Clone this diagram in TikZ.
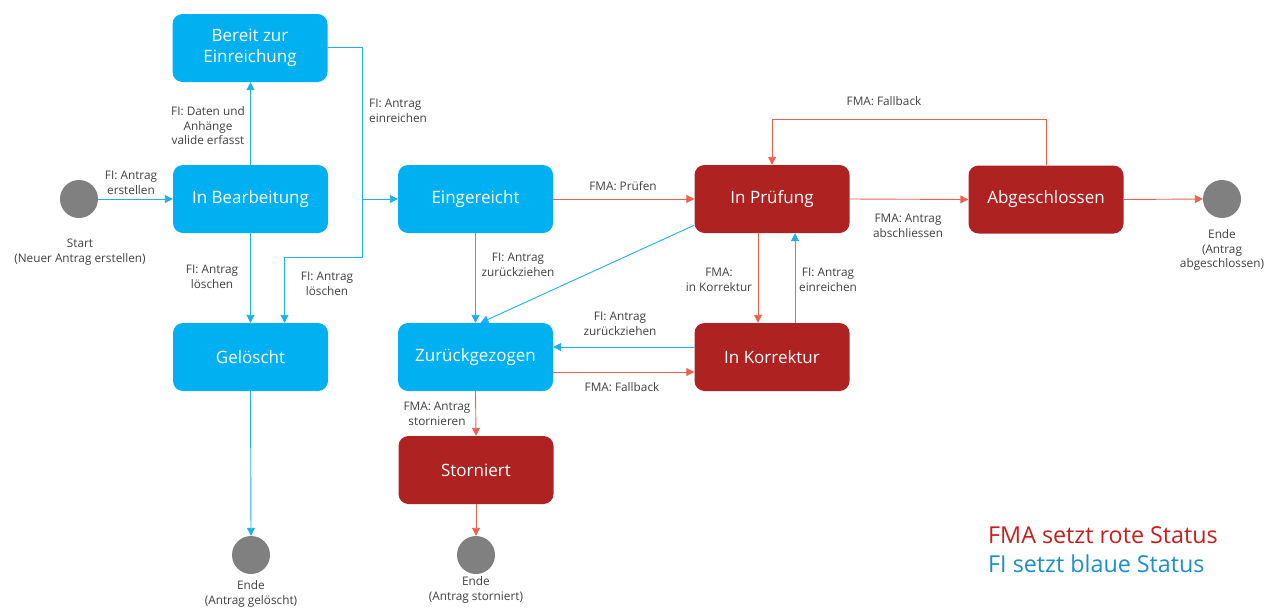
\documentclass[tikz,border=0pt]{standalone}
\usepackage{fontspec}
\setmainfont{Open Sans}
\usetikzlibrary{arrows.meta}
\definecolor{sblue}{HTML}{00B0F0}
\definecolor{sred}{HTML}{AE2222}
\definecolor{lblue}{HTML}{1CB0EC}
\definecolor{lred}{HTML}{EE6150}
\definecolor{circ}{HTML}{808080}
\definecolor{txt}{HTML}{404040}
\definecolor{legred}{HTML}{C81E1E}
\definecolor{legblue}{HTML}{1A8FC8}
\begin{document}
\begin{tikzpicture}[x=1pt,y=-1pt,
 state/.style={rounded corners=10pt, minimum width=155pt, minimum height=68pt, text=white, font=\fontsize{17}{21}\selectfont, align=center, inner sep=0pt},
 bstate/.style={state, fill=sblue},
 rstate/.style={state, fill=sred},
 endpt/.style={circle, fill=circ, minimum size=38pt, inner sep=0pt},
 lbl/.style={font=\fontsize{11.8}{14.5}\selectfont, text=txt, align=center, inner sep=0pt},
 legend/.style={font=\fontsize{23.3}{29}\selectfont, anchor=west, inner sep=0pt},
 bline/.style={draw=lblue, line width=0.9pt, -{Triangle[length=8pt,width=8pt]}},
 rline/.style={draw=lred, line width=0.9pt, -{Triangle[length=8pt,width=8pt]}},
]
\useasboundingbox (0,0) rectangle (1271,608);
\fill[white] (0,0) rectangle (1271,608);

% states
\node[bstate] (bereit) at (250,48) {Bereit zur\\Einreichung};
\node[bstate] (bearb) at (250.5,199) {In Bearbeitung};
\node[bstate] (eing) at (475.5,199) {Eingereicht};
\node[rstate] (pruef) at (772,199) {In Prüfung};
\node[rstate] (abg) at (1046,199.5) {Abgeschlossen};
\node[bstate] (gel) at (250.5,357) {Gelöscht};
\node[bstate] (zur) at (475.5,357) {Zurückgezogen};
\node[rstate] (korr) at (772,357) {In Korrektur};
\node[rstate] (storn) at (476,470) {Storniert};

% start / end points
\node[endpt] (start) at (79,199) {};
\node[endpt] (endA) at (1222,199) {};
\node[endpt] (endG) at (251,555) {};
\node[endpt] (endS) at (476,555) {};

\node[lbl] (startl) at (80,252) {Start\\(Neuer Antrag erstellen)};
\node[lbl] (endAl) at (1222,250) {Ende\\(Antrag\\abgeschlossen)};
\node[lbl] (endGl) at (251,594) {Ende\\(Antrag gelöscht)};
\node[lbl] (endSl) at (476,590) {Ende\\(Antrag storniert)};

% connectors
\draw[bline] (start) -- (bearb);
\draw[bline] (bearb.north) -- (bereit.south -| bearb.north);
\coordinate (j1) at (362,47);
\coordinate (j2) at (362,257);
\draw[bline] (bereit.east |- j1) -- (j1) |- (eing.west);
\draw[bline] (j1) -- (j2) -| ([xshift=34pt]gel.north);
\draw[bline] (bearb.south) -- (gel.north);
\draw[bline] (gel.south) -- (endG.north);
\draw[rline] (eing.east) -- (pruef.west);
\draw[bline] (eing.south) -- (zur.north);
\draw[bline] ([yshift=8pt]pruef.south west) -- ([xshift=5pt]zur.north);
\draw[rline] ([xshift=-14pt]pruef.south) -- ([xshift=-14pt]korr.north);
\draw[bline] ([xshift=23pt]korr.north) -- ([xshift=23pt]pruef.south);
\draw[bline] ([yshift=10pt]korr.west) -- ([yshift=10pt]zur.east);
\draw[rline] ([yshift=-15pt]zur.east) -- ([yshift=-15pt]korr.west);
\draw[rline] (zur.south) -- (storn.north);
\draw[rline] (storn.south) -- (endS.north);
\draw[rline] (pruef.east) -- (abg.west);
\coordinate (j3) at (1046,119);
\draw[rline] (abg.north) -- (j3) -| (pruef.north);
\draw[rline] (abg.east) -- (endA.west);

% labels
\node[lbl] (l1) at (131,183) {FI: Antrag\\erstellen};
\node[lbl] (l2) at (208,126) {FI: Daten und\\Anhänge\\valide erfasst};
\node[lbl, anchor=west, align=left] (l3) at (369,111) {FI: Antrag\\einreichen};
\node[lbl] (l4) at (327,284) {FI: Antrag\\löschen};
\node[lbl] (l5) at (212,277) {FI: Antrag\\löschen};
\node[lbl] (l6) at (623,186) {FMA: Prüfen};
\node[lbl] (l7) at (518,265) {FI: Antrag\\zurückziehen};
\node[lbl] (l8) at (719,280) {FMA:\\in Korrektur};
\node[lbl] (l9) at (828,280) {FI: Antrag\\einreichen};
\node[lbl] (l10) at (620,324) {FI: Antrag\\zurückziehen};
\node[lbl] (l11) at (622,387) {FMA: Fallback};
\node[lbl] (l12) at (437,414) {FMA: Antrag\\stornieren};
\node[lbl] (l13) at (908,226) {FMA: Antrag\\abschliessen};
\node[lbl] (l14) at (884,101) {FMA: Fallback};

% legend
\node[legend, text=legred] (leg1) at (988,535) {FMA setzt rote Status};
\node[legend, text=legblue] (leg2) at (988,564) {FI setzt blaue Status};
\end{tikzpicture}
\end{document}
